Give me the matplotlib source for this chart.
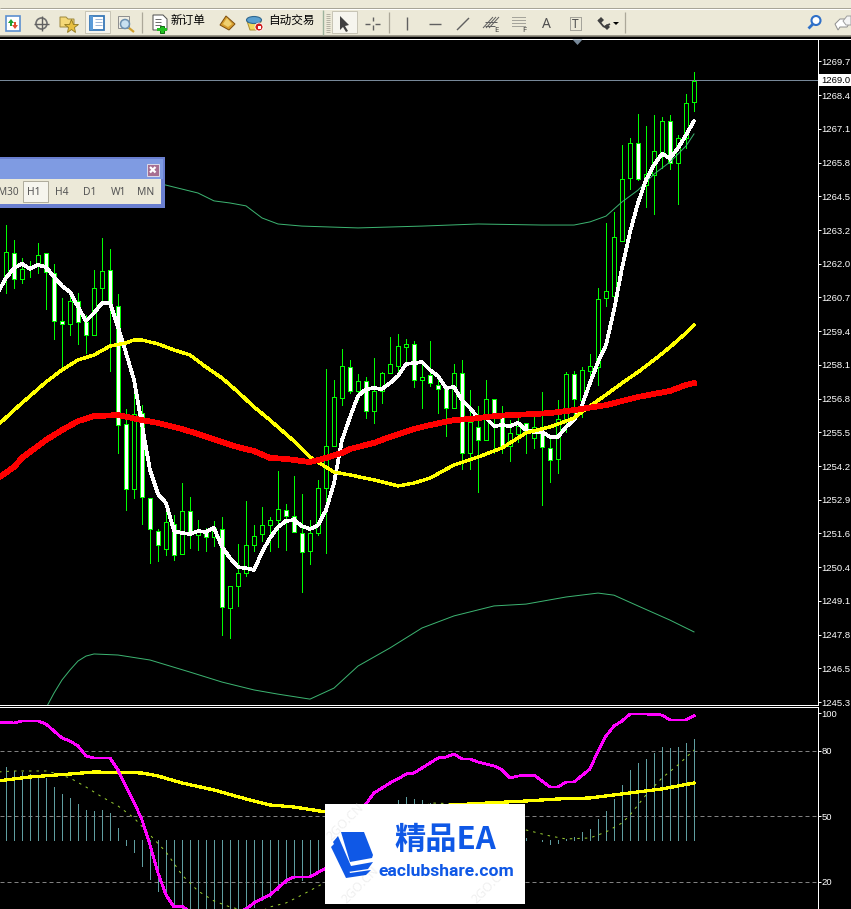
import numpy as np
import matplotlib
matplotlib.use('Agg')
import matplotlib.pyplot as plt
from matplotlib.patches import Rectangle, Polygon, Circle, Ellipse

# candles, one per bar
highs = [1263.47, 1262.90, 1262.21, 1262.10, 1262.79, 1262.40, 1261.99, 1260.69, 1260.99, 1260.88,
         1260.04, 1261.76, 1262.98, 1262.56, 1260.84, 1256.46, 1257.19, 1256.61, 1253.07, 1251.89,
         1252.69, 1252.42, 1253.64, 1253.11, 1252.23, 1251.93, 1252.20, 1252.35, 1249.72, 1251.32,
         1252.96, 1252.04, 1252.73, 1252.35, 1254.10, 1252.84, 1253.91, 1253.22, 1252.23, 1253.76,
         1257.99, 1257.57, 1258.75, 1258.33, 1257.80, 1257.68, 1258.40, 1257.87, 1259.20, 1259.32,
         1259.13, 1259.05, 1258.21, 1259.05, 1257.76, 1257.30, 1258.18, 1258.33, 1257.19, 1256.58,
         1257.57, 1256.84, 1256.58, 1256.04, 1256.31, 1255.93, 1256.15, 1257.11, 1255.40, 1256.80,
         1257.87, 1257.91, 1258.06, 1258.56, 1261.07, 1263.55, 1263.97, 1266.52, 1266.79, 1267.70,
         1267.24, 1267.66, 1267.59, 1267.66, 1266.90, 1268.46, 1269.30]
lows = [1260.88, 1261.07, 1261.26, 1261.49, 1261.64, 1260.27, 1259.13, 1258.06, 1259.28, 1258.94,
        1258.60, 1259.28, 1260.50, 1257.91, 1254.79, 1252.61, 1253.07, 1252.08, 1250.59, 1250.67,
        1250.90, 1250.71, 1250.94, 1251.17, 1251.09, 1251.05, 1251.24, 1247.85, 1247.74, 1248.96,
        1250.10, 1251.05, 1251.43, 1251.05, 1251.20, 1251.09, 1251.78, 1249.49, 1250.56, 1251.66,
        1250.98, 1255.05, 1256.61, 1257.07, 1256.80, 1256.12, 1255.93, 1256.69, 1257.83, 1257.72,
        1258.21, 1257.30, 1256.50, 1257.34, 1256.31, 1255.43, 1256.50, 1254.18, 1254.18, 1253.30,
        1255.28, 1254.79, 1254.79, 1254.48, 1255.20, 1254.79, 1254.98, 1252.80, 1253.68, 1254.02,
        1255.59, 1256.04, 1256.15, 1257.57, 1257.38, 1260.39, 1260.77, 1262.86, 1264.84, 1265.19,
        1264.16, 1263.89, 1265.64, 1265.60, 1264.27, 1266.40, 1267.81]
opens = [1261.49, 1262.40, 1261.41, 1261.80, 1261.95, 1262.40, 1261.64, 1259.81, 1259.70, 1260.58,
         1259.78, 1259.28, 1261.07, 1261.76, 1260.39, 1255.89, 1253.41, 1256.31, 1253.07, 1251.81,
         1251.13, 1252.08, 1250.94, 1252.58, 1251.66, 1251.81, 1251.59, 1251.89, 1248.88, 1249.72,
         1250.21, 1251.28, 1251.70, 1252.04, 1252.23, 1252.61, 1252.39, 1251.74, 1251.05, 1251.74,
         1253.45, 1255.05, 1256.88, 1258.06, 1257.15, 1257.53, 1256.39, 1257.15, 1257.83, 1258.10,
         1258.82, 1258.94, 1257.57, 1257.76, 1257.38, 1257.22, 1256.50, 1257.83, 1254.79, 1255.78,
         1255.28, 1256.84, 1256.15, 1255.05, 1255.51, 1255.93, 1255.36, 1255.55, 1254.98, 1254.56,
         1256.04, 1257.80, 1256.80, 1257.91, 1258.06, 1260.69, 1260.77, 1262.86, 1265.26, 1266.60,
         1264.99, 1265.38, 1266.25, 1267.43, 1265.83, 1266.79, 1268.16]
closes = [1262.44, 1261.41, 1261.80, 1261.87, 1262.33, 1261.68, 1259.81, 1259.70, 1260.58, 1259.78,
          1259.28, 1261.07, 1261.72, 1260.50, 1255.85, 1253.41, 1256.27, 1253.11, 1251.89, 1251.28,
          1252.16, 1250.90, 1252.58, 1251.74, 1251.78, 1251.59, 1251.93, 1248.92, 1249.72, 1250.21,
          1251.28, 1251.62, 1252.04, 1252.23, 1252.65, 1252.39, 1251.78, 1251.01, 1251.74, 1253.45,
          1255.05, 1256.92, 1258.10, 1257.15, 1257.53, 1256.39, 1257.15, 1257.83, 1258.18, 1258.86,
          1258.94, 1257.57, 1257.68, 1257.45, 1257.22, 1256.50, 1257.83, 1254.79, 1255.97, 1255.28,
          1256.84, 1256.15, 1255.05, 1255.55, 1255.81, 1255.55, 1255.78, 1255.01, 1254.52, 1256.08,
          1257.80, 1256.84, 1257.95, 1258.10, 1260.65, 1260.96, 1263.01, 1265.22, 1266.60, 1265.22,
          1265.41, 1266.29, 1267.43, 1265.83, 1266.79, 1268.12, 1268.96]

# fast MA, one value per bar starting at bar -1
fast_ma = [1260.92, 1261.45, 1261.83, 1261.99, 1261.80, 1261.95, 1261.87, 1261.49, 1261.15, 1260.92,
           1260.35, 1259.81, 1260.12, 1260.50, 1260.50, 1259.59, 1258.60, 1257.57, 1255.85, 1254.14,
           1253.22, 1252.88, 1251.81, 1251.74, 1251.70, 1251.81, 1251.78, 1251.93, 1251.20, 1250.79,
           1250.44, 1250.40, 1250.33, 1251.01, 1251.55, 1251.97, 1252.20, 1252.23, 1252.00, 1251.89,
           1252.04, 1252.61, 1253.64, 1255.28, 1256.15, 1256.96, 1257.22, 1257.26, 1257.22, 1257.45,
           1257.72, 1258.18, 1258.21, 1258.25, 1257.95, 1257.72, 1257.26, 1257.30, 1256.80, 1256.50,
           1256.12, 1256.12, 1255.81, 1255.85, 1255.81, 1255.93, 1255.66, 1255.59, 1255.59, 1255.40,
           1255.40, 1255.78, 1256.04, 1256.61, 1257.45, 1258.25, 1258.90, 1260.23, 1261.83, 1263.20,
           1264.31, 1265.19, 1265.76, 1266.18, 1266.02, 1266.40, 1266.90, 1267.43]

mid_bars = [-1, 1, 3, 5, 7, 9, 11, 13, 15, 16, 17, 19, 21, 23, 25, 27, 29, 31, 33, 36, 38, 39, 41, 43, 46, 49,
            51, 53, 56, 59, 62, 65, 68, 70, 71, 73, 75, 77, 79, 81, 83, 85, 86]
mid_ma = [1255.85, 1256.42, 1256.96, 1257.49, 1257.95, 1258.33, 1258.52, 1258.86, 1258.98, 1259.09, 1259.09,
          1258.94, 1258.71, 1258.52, 1258.06, 1257.64, 1257.11, 1256.54, 1256.04, 1255.24, 1254.63, 1254.44,
          1254.06, 1253.95, 1253.76, 1253.53, 1253.64, 1253.83, 1254.33, 1254.63, 1254.98, 1255.55, 1255.78,
          1256.00, 1256.12, 1256.58, 1257.00, 1257.45, 1257.87, 1258.33, 1258.82, 1259.36, 1259.66]

slow_bars = [-1, 1, 2, 5, 7, 9, 11, 14, 17, 19, 22, 24, 27, 29, 31, 33, 35, 38, 40, 42, 43, 46, 48, 51, 53, 56,
             58, 61, 63, 66, 68, 71, 75, 79, 83, 85, 86]
slow_ma = [1253.83, 1254.25, 1254.60, 1255.28, 1255.66, 1256.00, 1256.19, 1256.23, 1256.04, 1255.93, 1255.70,
           1255.51, 1255.20, 1255.01, 1254.86, 1254.60, 1254.56, 1254.44, 1254.60, 1254.79, 1254.94, 1255.17,
           1255.40, 1255.70, 1255.85, 1256.04, 1256.08, 1256.19, 1256.23, 1256.27, 1256.31, 1256.42, 1256.61,
           1256.92, 1257.15, 1257.38, 1257.45]

upper_bars = [19, 20, 24, 25, 26, 28, 30, 31, 32, 34, 37, 40, 44, 52, 59, 67, 71, 73, 75, 77, 79, 81, 83, 85, 86]
upper_band = [1265.07, 1264.99, 1264.69, 1264.54, 1264.39, 1264.31, 1264.20, 1263.97, 1263.74, 1263.51, 1263.43,
              1263.40, 1263.36, 1263.43, 1263.51, 1263.47, 1263.47, 1263.59, 1263.81, 1264.35, 1264.80, 1265.41,
              1265.87, 1266.48, 1266.94]
lower_bars = [5, 6, 7, 8, 9, 10, 11, 14, 18, 23, 27, 31, 34, 38, 41, 44, 48, 52, 56, 61, 65, 70, 74, 76, 79, 83, 86]
lower_band = [1245.07, 1245.64, 1246.14, 1246.52, 1246.86, 1247.05, 1247.13, 1247.09, 1246.90, 1246.44, 1246.06,
              1245.76, 1245.60, 1245.41, 1245.83, 1246.67, 1247.36, 1248.12, 1248.58, 1248.96, 1249.03, 1249.30,
              1249.45, 1249.37, 1248.96, 1248.42, 1247.97]

current_price = 1269.0
price_ticks = [1269.70, 1268.42, 1267.13, 1265.85, 1264.56, 1263.28, 1262.00, 1260.71, 1259.43, 1258.14,
               1256.86, 1255.58, 1254.29, 1253.01, 1251.72, 1250.44, 1249.16, 1247.87, 1246.59, 1245.30]
price_labels = ['1269.7', '1268.4', '1267.1', '1265.8', '1264.5', '1263.2', '1262.0', '1260.7', '1259.4', '1258.1',
                '1256.8', '1255.5', '1254.2', '1252.9', '1251.6', '1250.4', '1249.1', '1247.8', '1246.5', '1245.3']

# lower window. nan = hidden behind the white box
hist_base = 39.23
hist_vals = [72.68, 70.84, 70.39, 69.47, 69.01, 67.64, 63.51, 60.31, 58.47, 55.73,
             52.98, 52.52, 52.98, 51.60, 44.73, 36.94, 33.74, 27.32, 21.37, 15.87,
             13.12, 9.92, 6.25, 5.33, 4.42, 3.50, 3.50, 3.50, 4.42, 4.87,
             6.25, 8.54, 11.75, 13.12, 16.33, 19.54, 21.83, 20.91, 22.28, 25.49,
             np.nan, np.nan, np.nan, np.nan, np.nan, np.nan, np.nan, np.nan, np.nan,
             57.56, 58.93, 58.02, 57.56, 56.18,
             np.nan, np.nan, np.nan, np.nan, np.nan, np.nan, np.nan, np.nan, np.nan, np.nan, np.nan,
             40.15, 39.23, 38.78, 37.40, 37.86, 39.69, 40.61, 42.90, 44.27, 48.85,
             52.52, 58.02, 64.43, 71.30, 74.51, 76.34, 79.09, 81.84, 81.38, 81.84, 83.67, 85.50]

signal_bars = [-1, 1, 5, 6, 8, 10, 12, 14, 16, 18, 20, 22, 24, 26, 28, 30, 32, 33, 35, 37, 40, 53, 57, 65, 68, 70,
               73, 75, 77, 78, 80, 82, 84, 86]
signal_vals = [70.39, 70.84, 70.84, 69.93, 67.64, 63.51, 58.93, 54.81, 49.31, 41.52, 33.74, 23.20, 15.87, 11.29,
               8.54, 6.71, 6.71, 8.54, 10.37, 14.04, 20.00, 56.18, 55.73, 43.82, 41.07, 39.69, 40.15, 42.90,
               47.02, 50.69, 59.85, 67.64, 73.59, 80.46]

stoch_bars = [-1, 1, 2, 4, 5, 7, 8, 9, 10, 11, 13, 14, 15, 16, 17, 18, 19, 20, 21, 22, 23, 25, 27, 29, 30, 31, 33,
              35, 36, 38, 40, 45, 46, 48, 49, 50, 51, 53, 54, 55, 56, 57, 58, 59, 61, 62, 63, 64, 66, 67, 68, 69,
              70, 71, 73, 74, 75, 76, 77, 78, 80, 82, 83, 85, 86]
stoch_vals = [93.29, 92.83, 93.75, 93.75, 92.38, 85.96, 84.59, 82.30, 77.71, 76.80, 76.80, 71.30, 63.51, 56.64,
              48.40, 36.94, 24.12, 14.04, 8.54, 9.00, 6.25, 4.42, 4.42, 5.79, 7.63, 10.38, 14.04, 20.46, 22.28,
              22.28, 26.41, 55.73, 60.77, 65.35, 67.18, 69.47, 69.93, 74.51, 76.80, 77.26, 78.63, 76.34, 76.34,
              74.97, 73.13, 71.30, 67.64, 68.55, 69.01, 66.26, 63.51, 63.51, 65.80, 65.80, 71.76, 80.00, 86.88,
              91.46, 93.75, 96.95, 96.95, 96.50, 94.21, 94.21, 96.04]

stoch_avg_bars = [-1, 3, 8, 11, 17, 19, 22, 26, 30, 33, 36, 40, 58, 65, 69, 73, 77, 82, 86]
stoch_avg = [66.26, 68.09, 69.47, 70.39, 69.93, 68.55, 65.35, 62.14, 58.02, 55.27, 54.35, 52.06, 55.73, 57.10,
             58.02, 58.47, 60.31, 62.60, 65.35]

sub_levels = [80, 50, 20]
sub_ticks = [97.3, 80, 50, 20]
sub_labels = ['100', '80', '50', '20']
timeframes = ['M30', 'H1', 'H4', 'D1', 'W1', 'MN']

W, H = 851, 909
GREEN = '#00ff00'
BEIGE = '#ece9d8'
LW1 = 0.72  # one pixel at dpi 100
TICK_FONT = ['Liberation Sans', 'DejaVu Sans']
TICK_SIZE = 6.8
plt.rcParams['font.family'] = ['Noto Sans', 'DejaVu Sans']

fig = plt.figure(figsize=(W / 100, H / 100), dpi=100, facecolor='black')


def px_axes(x0, y0, x1, y1):
    return fig.add_axes([x0 / W, 1 - y1 / H, (x1 - x0) / W, (y1 - y0) / H], facecolor='black')


def style_axes(ax, ticks, labels):
    # bars are 8 pixels apart, bar 0 sits on pixel column 6
    ax.set_xlim(-6 / 8, 812 / 8)
    ax.set_xticks([])
    ax.yaxis.tick_right()
    ax.set_yticks(ticks)
    ax.set_yticklabels(labels, family=TICK_FONT)
    ax.tick_params(axis='y', colors='white', length=2.2, width=LW1, pad=0.4, labelsize=TICK_SIZE)
    ax.spines['left'].set_visible(False)
    for side in ['top', 'right', 'bottom']:
        ax.spines[side].set_color('white')
        ax.spines[side].set_linewidth(LW1)


# price window
ax = px_axes(0, 39, 818, 705)
ax.set_ylim(1245.186, 1270.557)
style_axes(ax, price_ticks, price_labels)
bars = np.arange(len(highs))
ax.axhline(current_price, color='#778899', lw=LW1, zorder=1)
ax.vlines(bars, lows, highs, color=GREEN, lw=LW1, antialiased=False, zorder=2)
fills = ['black' if c >= o else 'white' for o, c in zip(opens, closes)]
ax.bar(bars, np.array(closes) - np.array(opens), bottom=opens, width=0.5, color=fills,
       edgecolor=GREEN, linewidth=LW1, antialiased=False, zorder=3)
ax.plot(upper_bars, upper_band, color='#3cb371', lw=LW1, zorder=4)
ax.plot(lower_bars, lower_band, color='#3cb371', lw=LW1, zorder=4)
ax.plot(np.arange(len(fast_ma)) - 1, fast_ma, color='white', lw=1.9, antialiased=False, zorder=5)
ax.plot(mid_bars, mid_ma, color='#ffff00', lw=1.7, antialiased=False, zorder=6)
ax.plot(slow_bars, slow_ma, color='#ff0000', lw=3.4, antialiased=False, zorder=7)

# oscillator window
sub = px_axes(0, 707, 818, H)
sub.set_ylim(7.6, 100.16)
style_axes(sub, sub_ticks, sub_labels)
sub.spines['bottom'].set_visible(False)
for level in sub_levels:
    sub.axhline(level, color='#808080', lw=LW1, dashes=(4, 3), zorder=1)
sub.vlines(bars, hist_base, hist_vals, color='#5f9ea0', lw=LW1, antialiased=False, zorder=2)
sub.plot(signal_bars, signal_vals, color='#9acd32', lw=LW1, dashes=(2.5, 5), zorder=3)
sub.plot(stoch_avg_bars, stoch_avg, color='#ffff00', lw=1.6, antialiased=False, zorder=4)
sub.plot(stoch_bars, stoch_vals, color='#ff00ff', lw=1.3, antialiased=False, zorder=5)

# everything that is not the chart, in pixel coords
ui = fig.add_axes([0, 0, 1, 1], zorder=10)
ui.set_xlim(0, W)
ui.set_ylim(H, 0)
ui.axis('off')


def box(x0, y0, x1, y1, fc, ec='none', lw=LW1, z=1):
    ui.add_patch(Rectangle((x0, y0), x1 - x0, y1 - y0, facecolor=fc, edgecolor=ec, linewidth=lw, zorder=z))


def seg(xs, ys, color='#606060', lw=LW1 * 1.4, z=3, **kw):
    ui.plot(xs, ys, color=color, lw=lw, zorder=z, solid_capstyle='butt', **kw)


def poly(pts, fc, ec='none', z=3, lw=LW1):
    ui.add_patch(Polygon(pts, closed=True, facecolor=fc, edgecolor=ec, linewidth=lw, zorder=z))


# toolbar
box(0, 0, W, 36, BEIGE)
seg([0, W], [8, 8], color='#a8a598', lw=LW1)
seg([0, W], [9, 9], color='white', lw=LW1)
seg([0, W], [36, 36], color='#8d8a7c', lw=1.2)
seg([0, W], [38.6, 38.6], color='white', lw=LW1)
for sx in [142, 389, 625]:
    seg([sx, sx], [12, 33], color='#aca899', lw=0.9)
seg([323, 323], [10, 35], color='#9db39d', lw=1.0)
for gy in range(14, 33, 2):
    seg([326, 330], [gy, gy], color='#b5b2a4', lw=LW1)

# selected buttons
box(85, 11, 110, 33, '#f6f5ee', ec='#c8c5b6')
box(332, 11, 357, 33, '#f6f5ee', ec='#c8c5b6')

# terminal / market icons
box(5.5, 15.5, 20, 31, 'white', ec='#5b8fd0', lw=1.2)
poly([(11, 19), (8, 23), (10, 23), (10, 26), (12, 26), (12, 23), (14, 23)], '#1fa030')
poly([(15, 29), (12, 25), (14, 25), (14, 22), (16, 22), (16, 25), (18, 25)], '#e25030')
ui.add_patch(Circle((41.5, 23.5), 5.5, facecolor='none', edgecolor='#707070', lw=1.2, zorder=3))
seg([41.5, 41.5], [16, 31])
seg([34, 49], [23.5, 23.5])
poly([(60, 17), (66, 17), (68, 19), (74, 19), (74, 27), (60, 27)], '#f4d878', ec='#a08a40')
ui.plot([71], [26], marker='*', ms=10, color='#e8c040', mec='#907820', mew=0.6, zorder=4)
box(90, 16, 104, 30, 'white', ec='#3878b8', lw=1.3)
box(90, 16, 93, 30, '#5b9bd8')
for ly in [19, 22, 25]:
    seg([95, 102], [ly, ly], color='#a0b8d8', lw=LW1)
box(118, 16, 129, 28, '#f0eee4', ec='#909090')
ui.add_patch(Circle((125, 24), 4.5, facecolor='#c8e0f0', edgecolor='#6c90b0', lw=1.1, zorder=4))
seg([129, 134], [28, 32], color='#d0a030', lw=1.6)

# new order
poly([(153, 15), (163, 15), (167, 19), (167, 30), (153, 30)], 'white', ec='#505050')
for ly in [19, 22, 25]:
    seg([155, 161], [ly, ly], color='#707070', lw=LW1)
box(160, 26, 164, 33, '#20c020', ec='#107010', z=4)
box(157, 28, 167, 31, '#20c020', z=4)
ui.text(171, 20.5, '新订单', fontsize=8.4, family=['Noto Sans CJK SC', 'DejaVu Sans'], va='center', ha='left', zorder=5, color='black')
poly([(220, 25), (226, 16), (235, 24), (229, 30)], '#d8a030', ec='#805010')
poly([(223, 24), (227, 18), (232, 24), (228, 27)], '#f0d070')

# auto trading
poly([(247, 21), (261, 21), (259, 30), (250, 30)], '#f0d860', ec='#b09030')
ui.add_patch(Ellipse((254, 20), 15, 7, facecolor='#5ba0d0', edgecolor='#306890', lw=0.8, zorder=4))
ui.add_patch(Circle((259, 27), 4, facecolor='#d02020', edgecolor='white', lw=0.6, zorder=5))
box(257.5, 25.5, 260.5, 28.5, 'white', z=6)
ui.text(268, 20.5, '自动交易', fontsize=8.4, family=['Noto Sans CJK SC', 'DejaVu Sans'], va='center', ha='left', zorder=5, color='black')

# drawing tools
poly([(340, 16), (340, 30), (343, 27), (346, 32), (348, 31), (345, 26), (349, 25)], '#404040')
seg([372.5, 372.5], [17, 21])
seg([372.5, 372.5], [25, 30])
seg([365, 370], [23.5, 23.5])
seg([375, 380], [23.5, 23.5])
seg([406.5, 406.5], [17, 30])
seg([429, 441], [23.5, 23.5])
seg([457, 469], [30, 18])
for off in [0, 3, 6]:
    seg([483 + off, 493 + off], [28, 17], lw=LW1)
seg([485, 497], [22, 22], lw=LW1)
seg([485, 495], [26, 26], lw=LW1)
ui.text(496, 30, 'E', fontsize=5.5, ha='center', va='center', color='#404040', weight='bold', zorder=4)
for ly in [17, 20, 23, 26]:
    seg([512, 525], [ly, ly], lw=LW1, ls=(0, (1, 1)))
ui.text(524, 30, 'F', fontsize=5.5, ha='center', va='center', color='#404040', weight='bold', zorder=4)
ui.text(546.5, 24, 'A', fontsize=10, ha='center', va='center', color='#505050', weight='bold', zorder=4)
box(569.5, 17, 581, 30, 'none', ec='#606060')
ui.patches[-1].set_linestyle((0, (1, 1)))
ui.text(575.5, 24, 'T', fontsize=8.5, ha='center', va='center', color='#505050', weight='bold', zorder=4)
seg([598, 604], [20, 27], color='#404040', lw=1.3)
seg([604, 610], [27, 24], color='#404040', lw=1.3)
poly([(598, 20), (601, 17), (604, 20), (601, 23)], '#404040')
poly([(604, 27), (607, 24), (610, 27), (607, 30)], '#404040')
poly([(613, 22), (619, 22), (616, 25)], 'black')
ui.add_patch(Circle((816, 20.5), 4.5, facecolor='white', edgecolor='#2f70c8', lw=1.5, zorder=3))
seg([813, 808.5], [24, 28.5], color='#2f70c8', lw=2)
poly([(835, 24), (840, 19), (846, 19), (850, 22), (847, 27), (840, 27), (838, 30)], 'white', ec='#909090')
poly([(843, 21), (847, 16), (851, 16), (851, 25), (846, 25)], '#f4f4f4', ec='#a0a0a0')

# pointer under the toolbar
poly([(572.5, 39.5), (582.5, 39.5), (577.5, 45)], '#778899')

# current price box
box(819, 74, W, 86, 'white')
ui.text(821.6, 80.3, '1269.0', fontsize=TICK_SIZE, family=TICK_FONT, color='black', va='center', ha='left', zorder=4)

# timeframe panel
box(0, 157, 165, 208, '#6a7fd0')
box(0, 159, 163, 179, '#7f9be2')
box(0, 179, 161, 204, BEIGE, z=2)
box(146.5, 163.5, 159, 176, '#a76f92', ec='#d8d8e8', z=3)
seg([150, 155.5], [167, 172.5], color='white', lw=1.6, z=4)
seg([150, 155.5], [172.5, 167], color='white', lw=1.6, z=4)
box(23, 180.5, 47.5, 202, '#f6f5ee', ec='#b0ad9e', z=3)
for name, tx in zip(timeframes, [8.5, 34, 62, 90, 119, 146]):
    ui.text(tx, 192.3, name, fontsize=7.2 if name == 'M30' else 7.4, color='#555555', ha='center', va='center', zorder=4)

# watermark box
BLUE = '#0f58e6'
box(325, 804, 525, 904, 'white', z=2)
for tx, ty, faint in [(345, 822, '2GO.CN'), (360, 885, '2GO.CN'), (490, 885, '2GO.CN')]:
    ui.text(tx, ty, faint, fontsize=9, rotation=45, color='#f0f0f0', ha='center', va='center', zorder=2.5)
poly([(331, 847), (337, 841), (350, 873), (371, 870), (366, 875), (346, 878)], BLUE, z=3)
poly([(333, 842), (338, 836), (351, 866), (373, 862), (368, 869), (348, 872)], BLUE, z=3)
poly([(341, 832), (364, 832), (373, 855), (372, 858), (350, 862)], BLUE, z=4)
ui.text(394, 840, '精品EA', fontsize=22.5, color=BLUE, weight='bold', family=['Noto Sans CJK SC', 'DejaVu Sans'],
        va='center', ha='left', zorder=5)
ui.text(378.5, 871.5, 'eaclubshare.com', fontsize=12.6, color=BLUE, weight='bold', family=['Roboto', 'DejaVu Sans'],
        va='center', ha='left', zorder=5)

fig.savefig('out.png', dpi=100, facecolor='black')
